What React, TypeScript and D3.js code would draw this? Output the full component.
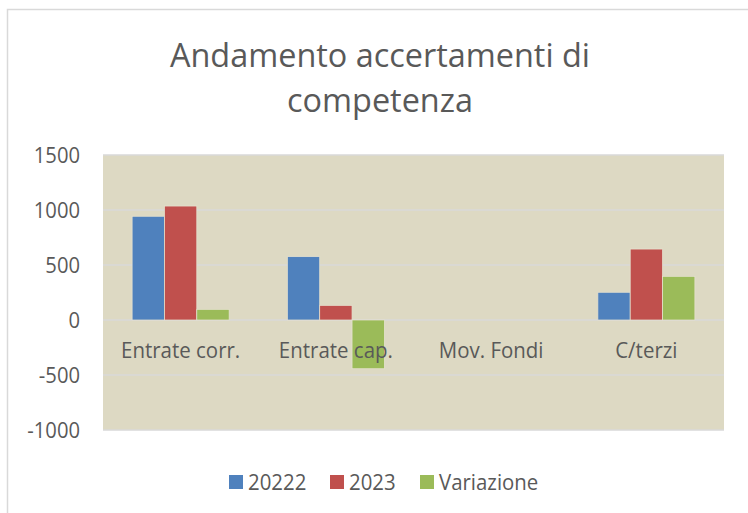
import React from "react";
import * as d3 from "d3";

const categories = ["Entrate corr.", "Entrate cap.", "Mov. Fondi", "C/terzi"];
const seriesNames = ["20222", "2023", "Variazione"];
const values2022 = [943, 576, 0, 252];
const values2023 = [1036, 133, 0, 645];
const valuesVar = [97, -443, 0, 397];
const yTicks = [-1000, -500, 0, 500, 1000, 1500];
const colors = ["#4F81BD", "#C0504D", "#9BBB59"];

const W = 748;
const H = 513;
const FONT = "'Open Sans', sans-serif";
const TXT = "#595959";

function T(props: { x: number; y: number; size: number; sx: number; anchor?: string; dy?: string; children: React.ReactNode }) {
  return (
    <text transform={`translate(${props.x},${props.y}) scale(${props.sx},1)`} textAnchor={props.anchor || "start"}
      dy={props.dy} fontSize={props.size} fill={TXT}>{props.children}</text>
  );
}

export default function App() {
  const plot = { left: 103, right: 724, top: 155, bottom: 430 };
  const x0 = d3.scaleBand<string>().domain(categories).range([plot.left, plot.right]).paddingInner(0).paddingOuter(0);
  const gap = 1.8;
  const groupW = x0.bandwidth() * 3 / (3 + gap);
  const x1 = d3.scaleBand<string>().domain(seriesNames).range([0, groupW]).padding(0);
  const y = d3.scaleLinear().domain([-1000, 1500]).range([plot.bottom, plot.top]);
  const series = [values2022, values2023, valuesVar];

  const legendItems = [
    { name: seriesNames[0], x: 229 },
    { name: seriesNames[1], x: 330 },
    { name: seriesNames[2], x: 420 },
  ];

  return (
    <svg width={W} height={H} style={{ position: "absolute", left: 0, top: 0, background: "#fff" }} fontFamily={FONT}>
      <rect x={7.5} y={9.5} width={W} height={H} fill="#fff" stroke="#D9D9D9" strokeWidth={1.5} />
      <T x={380} y={67} size={33.6} sx={0.965} anchor="middle">Andamento accertamenti di</T>
      <T x={380} y={112} size={33.6} sx={0.965} anchor="middle">competenza</T>
      <rect x={plot.left} y={plot.top} width={plot.right - plot.left} height={plot.bottom - plot.top} fill="#DDD9C3" />
      {yTicks.map((t) => (
        <g key={t}>
          <line x1={plot.left} x2={plot.right} y1={y(t)} y2={y(t)} stroke="#D9D9D9" strokeWidth={1.5} />
          <T x={80} y={y(t)} dy="0.36em" anchor="end" size={21.5} sx={0.94}>{t}</T>
        </g>
      ))}
      {categories.map((c, ci) => {
        const gx = (x0(c) as number) + (x0.bandwidth() - groupW) / 2;
        return (
          <g key={c}>
            {series.map((s, si) => {
              const v = s[ci];
              if (v === 0) return null;
              const bx = gx + (x1(seriesNames[si]) as number);
              return (
                <rect key={si} x={bx} y={Math.min(y(v), y(0))} width={x1.bandwidth()} height={Math.abs(y(v) - y(0))}
                  fill={colors[si]} stroke="#E6E2D0" strokeWidth={0.75} />
              );
            })}
          </g>
        );
      })}
      {categories.map((c) => (
        <T key={c} x={(x0(c) as number) + x0.bandwidth() / 2} y={358} anchor="middle" size={22} sx={0.93}>{c}</T>
      ))}
      {legendItems.map((it, i) => (
        <g key={it.name}>
          <rect x={it.x} y={475} width={14} height={14} fill={colors[i]} />
          <T x={it.x + 19} y={490} size={21.5} sx={0.95}>{it.name}</T>
        </g>
      ))}
    </svg>
  );
}
